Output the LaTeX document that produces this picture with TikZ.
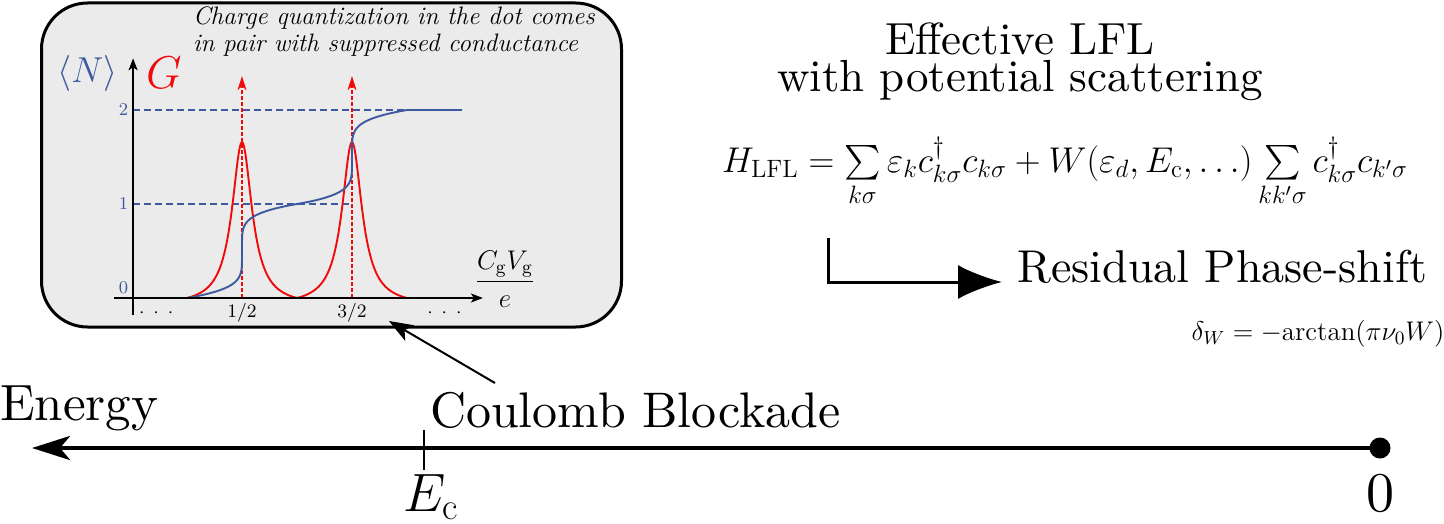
\documentclass[tikz,border=0pt]{standalone}
\usepackage{fix-cm}
\usepackage{amsmath}
\usepackage{fontspec}
\newfontfamily\rmten{lmroman10-regular}[Extension=.otf]
\usetikzlibrary{arrows.meta}
\definecolor{nblue}{RGB}{62,90,158}
\definecolor{gred}{RGB}{240,10,10}
\definecolor{boxgray}{RGB}{235,235,235}
\newcommand\fsz[1]{\fontsize{#1}{#1}\selectfont}
\begin{document}
\begin{tikzpicture}[x=0.5pt,y=-0.5pt,
  lbl/.style={inner sep=0pt, outer sep=0pt},
  axisline/.style={line width=0.9pt, -{Stealth[length=6pt,width=4.5pt,inset=1.5pt]}},
  bluedash/.style={nblue, line width=0.9pt, dash pattern=on 3.5pt off 2pt},
  redarrow/.style={gred, line width=0.75pt, dash pattern=on 1.8pt off 1.2pt, -{Stealth[length=7pt,width=4.5pt,inset=2pt]}},
  curve/.style={line width=0.95pt}]
\useasboundingbox (0,0) rectangle (1444,524);

% ---------- inset ----------
\node[draw, line width=1.5pt, fill=boxgray, rounded corners=23pt,
      minimum width=290pt, minimum height=162pt, inner sep=0pt, outer sep=0pt] (inset) at (331.5,165) {};

\node[lbl, anchor=base west, font=\fsz{12.6pt}\itshape] (note1) at (193,25) {Charge quantization in the dot comes};
\node[lbl, anchor=base west, font=\fsz{12.6pt}\itshape] (note2) at (193,52) {in pair with suppressed conductance};

\begin{scope}[xshift=93.5pt, yshift=-149pt, x=55pt, y=47pt]
  \draw[bluedash] (-0.49,2) -- (2.5,2);
  \draw[bluedash] (-0.49,1) -- (1.5,1);
  \draw[redarrow] (0.5,0) -- (0.5,2.36);
  \draw[redarrow] (1.5,0) -- (1.5,2.36);
  \draw[gred, curve] plot[domain=0:1, samples=101] (\x,{1.66*(1/(1+((\x-0.5)/0.11)^2)-0.04617)/0.95383});
  \draw[gred, curve] plot[domain=1:2, samples=101] (\x,{1.66*(1/(1+((\x-1.5)/0.11)^2)-0.04617)/0.95383});
  \draw[nblue, curve] (-0.49,0) -- (0,0)
     -- plot[domain=-1:1, samples=80] ({0.5+0.5*sign(\x)*pow(abs(\x),5)},{0.5+0.5*\x})
     -- plot[domain=-1:1, samples=80] ({1.5+0.5*sign(\x)*pow(abs(\x),5)},{1.5+0.5*\x})
     -- (2.5,2);
  \draw[axisline] (-0.66,0) -- (2.69,0);
  \draw[axisline] (-0.49,-0.18) -- (-0.49,2.55);
  \node[lbl, anchor=east, text=nblue, font=\fsz{9pt}] (t2) at (-0.536,2) {$2$};
  \node[lbl, anchor=east, text=nblue, font=\fsz{9pt}] (t1) at (-0.536,1) {$1$};
  \node[lbl, anchor=east, text=nblue, font=\fsz{9pt}] (t0) at (-0.536,0.11) {$0$};
  \node[lbl, font=\fsz{9.5pt}] (half) at (0.5,-0.155) {$1/2$};
  \node[lbl, font=\fsz{9.5pt}] (thalf) at (1.5,-0.155) {$3/2$};
  \node[lbl, font=\fsz{9.5pt}] (dl) at (-0.28,-0.16) {$\cdot$\hspace{4.5pt}$\cdot$\hspace{4.5pt}$\cdot$};
  \node[lbl, font=\fsz{9.5pt}] (dr) at (2.34,-0.16) {$\cdot$\hspace{4.5pt}$\cdot$\hspace{4.5pt}$\cdot$};
  \node[lbl, font=\fsz{13.5pt}] (frac) at (2.89,0.2) {$\dfrac{C_{\mathrm{g}}V_{\mathrm{g}}}{e}$};
  \node[lbl, anchor=base, text=nblue, font=\fsz{18pt}] (nlab) at (-0.905,2.29) {$\langle N\rangle$};
  \node[lbl, anchor=base, text=gred, font=\fsz{23pt}] (glab) at (-0.21,2.23) {$G$};
\end{scope}

% ---------- right side ----------
\node[lbl, anchor=north, align=center, font=\fontsize{22.5pt}{18.5pt}\selectfont\rmten] (title) at (1020,23)
  {Effective LFL\\with potential scattering};
\node[lbl, anchor=base west, font=\fsz{17.9pt}] (ham) at (722,172)
  {$H_{\mathrm{LFL}} = \sum\limits_{k\sigma} \varepsilon_k c^\dagger_{k\sigma} c_{k\sigma} + W(\varepsilon_d, E_{\mathrm{c}}, \ldots) \sum\limits_{kk'\sigma} c^\dagger_{k\sigma} c_{k'\sigma}$};
\node[anchor=base west, inner sep=7.5pt, font=\fsz{23pt}\rmten] (res) at (1002,282) {Residual Phase-shift};
\node[lbl, anchor=base, font=\fsz{13.5pt}] (delta) at (1318,340) {$\delta_W = -\mathrm{arctan}(\pi\nu_0 W)$};
\coordinate (rstart) at (828,238);
\draw[line width=1.5pt, -{Latex[length=22pt,width=17pt]}] (rstart) |- (res.base west);

% ---------- energy axis ----------
\node[circle, fill=black, inner sep=0pt, minimum size=10.5pt] (zero) at (1380,448) {};
\coordinate (eend) at (32,448);
\draw[line width=2.2pt, -{Stealth[length=19pt,width=12pt,inset=5pt]}] (zero.center) -- (eend);
\node[lbl, anchor=base west, font=\fsz{25.5pt}\rmten] (energy) at (0,420) {Energy};
\node[lbl, anchor=base west, font=\fsz{25pt}\rmten] (coulomb) at (430,427) {Coulomb Blockade};
\coordinate (ectop) at (424,430);
\coordinate (ecbot) at (424,470);
\draw[line width=1pt] (ectop) -- (ecbot);
\node[lbl, anchor=base west, font=\fsz{27pt}] (eclab) at (403,511) {$E_{\mathrm{c}}$};
\node[lbl, anchor=base, font=\fsz{28pt}\rmten] (zlab) at (1380,511) {0};
\coordinate (cbtail) at (495,383);
\coordinate (cbtip) at (389,321);
\draw[line width=1pt, -{Stealth[length=12pt,width=9pt,inset=3pt]}] (cbtail) -- (cbtip);
\end{tikzpicture}
\end{document}
